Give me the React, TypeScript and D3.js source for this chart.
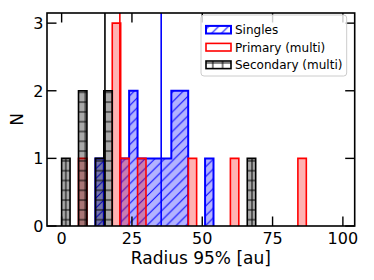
import React from "react";
import * as d3 from "d3";

// histogram bins (left edges, au) and counts
const binWidth = 3;
const singlesBinStarts = [12, 21, 24, 27, 30, 33, 36, 39, 42, 51];
const singlesCounts = [1, 1, 2, 1, 1, 1, 1, 2, 2, 1];
const primaryBinStarts = [6, 18, 21, 27, 45, 60, 84];
const primaryCounts = [1, 3, 1, 1, 1, 1, 1];
const secondaryBinStarts = [0, 6, 12, 15, 66];
const secondaryCounts = [1, 2, 1, 2, 1];

const seriesNames = ["Singles", "Primary (multi)", "Secondary (multi)"];
const medians = [35.4, 20.7, 15.4];

const xTicks = [0, 25, 50, 75, 100];
const yTicks = [0, 1, 2, 3];

const W = 374;
const H = 280;
const plot = { left: 47, right: 354.7, top: 13, bottom: 226 };
const FONT = "DejaVu Sans, sans-serif";

const x = d3.scaleLinear().domain([-5.2, 104.2]).range([plot.left, plot.right]);
const y = d3.scaleLinear().domain([0, 3.15]).range([plot.bottom, plot.top]);

// matplotlib "stepfilled": one outline per run of adjacent bins
function stepPath(starts: number[], counts: number[]) {
  let d = "";
  let prevEnd: number | null = null;
  starts.forEach((s, i) => {
    const h = y(counts[i]);
    if (prevEnd === null || Math.abs(prevEnd - s) > 1e-6) {
      if (prevEnd !== null) d += `V${y(0)}`;
      d += `M${x(s)},${y(0)}V${h}`;
    } else {
      d += `V${h}`;
    }
    d += `H${x(s + binWidth)}`;
    prevEnd = s + binWidth;
  });
  d += `V${y(0)}`;
  return d;
}

const series = [
  { starts: singlesBinStarts, counts: singlesCounts, edge: "#0000ff", fill: "#0000ff", alpha: 0.3, hatch: "url(#hatchDiag)" },
  { starts: primaryBinStarts, counts: primaryCounts, edge: "#ff0000", fill: "#ff0000", alpha: 0.3, hatch: null },
  { starts: secondaryBinStarts, counts: secondaryCounts, edge: "#000000", fill: "#000000", alpha: 0.34, hatch: "url(#hatchGrid)" },
];

export default function App() {
  const tickLen = 9.5;
  const legendRows = [29.7, 47.2, 64.8];
  return (
    <svg
      width={W}
      height={H}
      style={{ position: "fixed", left: 0, top: 0, background: "#fff" }}
      fontFamily={FONT}
    >
      <defs>
        <pattern id="hatchDiag" patternUnits="userSpaceOnUse" width={9.8} height={9.8}>
          <path d="M0,9.8L9.8,0M-2.45,2.45L2.45,-2.45M7.35,12.25L12.25,7.35" stroke="#0000ff" strokeWidth={1} />
        </pattern>
        <pattern id="hatchGrid" patternUnits="userSpaceOnUse" x={2.1} y={-0.8} width={9.8} height={9.8}>
          <path d="M0,4.9H9.8M4.9,0V9.8" stroke="#000" strokeWidth={1} />
        </pattern>
        <clipPath id="plotClip">
          <rect x={plot.left} y={plot.top} width={plot.right - plot.left} height={plot.bottom - plot.top} />
        </clipPath>
      </defs>

      <g clipPath="url(#plotClip)">
        {series.map((s, i) => {
          const d = stepPath(s.starts, s.counts);
          return (
            <g key={i}>
              <path d={d} fill={s.fill} fillOpacity={s.alpha} stroke="none" />
              {s.hatch && <path d={d} fill={s.hatch} stroke="none" />}
              <path d={d} fill="none" stroke={s.edge} strokeWidth={i === 0 ? 2 : 1.6} />
              <line
                x1={x(medians[i])}
                x2={x(medians[i])}
                y1={y(0)}
                y2={plot.top}
                stroke={s.edge}
                strokeWidth={1.6}
              />
            </g>
          );
        })}
      </g>

      {/* ticks, inward on all four sides */}
      <g stroke="#000" strokeWidth={1.4}>
        {xTicks.map((t) => (
          <g key={"x" + t}>
            <line x1={x(t)} x2={x(t)} y1={plot.bottom} y2={plot.bottom - tickLen} />
            <line x1={x(t)} x2={x(t)} y1={plot.top} y2={plot.top + tickLen} />
          </g>
        ))}
        {yTicks.map((t) => (
          <g key={"y" + t}>
            <line x1={plot.left} x2={plot.left + tickLen} y1={y(t)} y2={y(t)} />
            <line x1={plot.right} x2={plot.right - tickLen} y1={y(t)} y2={y(t)} />
          </g>
        ))}
      </g>

      {/* legend */}
      <g>
        <rect x={201} y={15} width={145.7} height={61} rx={3} fill="#fff" fillOpacity={0.8} stroke="#cccccc" strokeWidth={1} />
        {seriesNames.map((name, i) => (
          <g key={name}>
            <rect x={206} y={legendRows[i] - 3.8} width={25} height={7.6} fill="#fff" />
            {series[i].hatch && (
              <rect x={206} y={legendRows[i] - 3.8} width={25} height={7.6} fill={series[i].hatch as string} />
            )}
            <rect
              x={206}
              y={legendRows[i] - 3.8}
              width={25}
              height={7.6}
              fill="none"
              stroke={series[i].edge}
              strokeWidth={i === 0 ? 2 : 1.6}
            />
            <text x={235} y={legendRows[i] + 4.4} fontSize={12} fill="#000">
              {name}
            </text>
          </g>
        ))}
      </g>

      {/* spines */}
      <rect
        x={plot.left}
        y={plot.top}
        width={plot.right - plot.left}
        height={plot.bottom - plot.top}
        fill="none"
        stroke="#000"
        strokeWidth={1.6}
      />

      {/* tick labels */}
      {xTicks.map((t) => (
        <text key={"xl" + t} x={x(t)} y={244} fontSize={16} textAnchor="middle" fill="#000">
          {t}
        </text>
      ))}
      {yTicks.map((t) => (
        <text key={"yl" + t} x={43.5} y={y(t) + 5.8} fontSize={16} textAnchor="end" fill="#000">
          {t}
        </text>
      ))}

      <text x={(plot.left + plot.right) / 2} y={264} fontSize={17} textAnchor="middle" fill="#000">
        Radius 95% [au]
      </text>
      <text
        transform={`translate(23,${(plot.top + plot.bottom) / 2}) rotate(-90)`}
        fontSize={17}
        textAnchor="middle"
        fill="#000"
      >
        N
      </text>
    </svg>
  );
}
